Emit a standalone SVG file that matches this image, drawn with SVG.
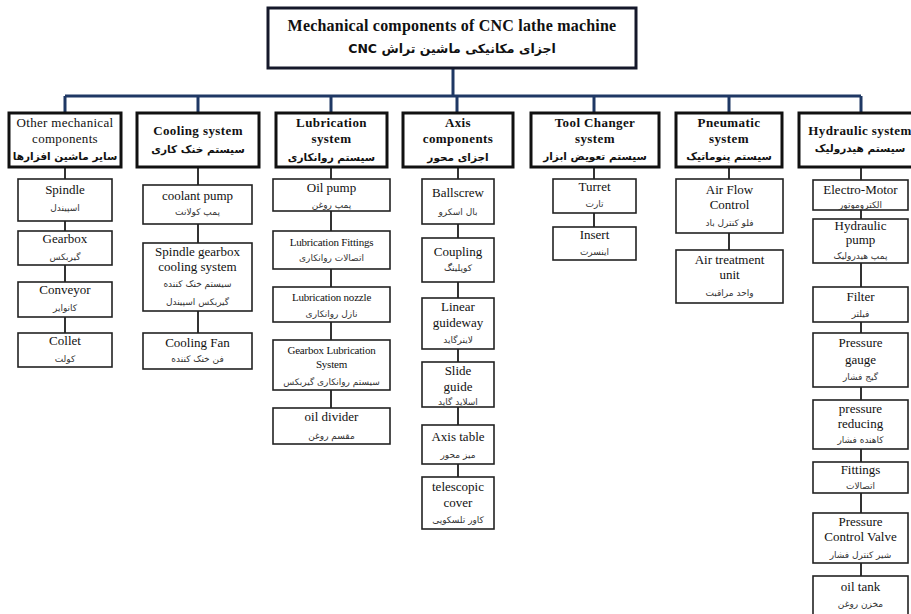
<svg xmlns="http://www.w3.org/2000/svg" width="911" height="614" viewBox="0 0 911 614">
<style>
.bg{fill:#ffffff}
.main{fill:#fff;stroke:#15182a;stroke-width:3}
.hdr{fill:#fff;stroke:#111;stroke-width:3}
.box{fill:#fff;stroke:#222;stroke-width:1.6}
.bus{fill:none;stroke:#1f3864;stroke-width:3}
.link{fill:none;stroke:#333;stroke-width:2}
text{text-anchor:middle}
.t{font-family:"Liberation Serif","Times New Roman",serif;font-size:16px;font-weight:bold;fill:#111;letter-spacing:0.2px}
.tf{font-family:"DejaVu Sans","Noto Sans",sans-serif;font-size:12.5px;font-weight:bold;fill:#111}
.hb{font-family:"Liberation Serif","Times New Roman",serif;font-size:13px;font-weight:bold;fill:#111;letter-spacing:0.4px}
.hr{font-family:"Liberation Serif","Times New Roman",serif;font-size:13px;fill:#111;letter-spacing:0.3px}
.hf{font-family:"DejaVu Sans","Noto Sans",sans-serif;font-size:10.5px;font-weight:bold;fill:#111}
.en{font-family:"Liberation Serif","Times New Roman",serif;font-size:13px;fill:#111}
.es{font-family:"Liberation Serif","Times New Roman",serif;font-size:11px;fill:#111;letter-spacing:-0.2px}
.fa{font-family:"DejaVu Sans","Noto Sans",sans-serif;font-size:9px;fill:#333}
</style>
<rect class="bg" x="0" y="0" width="911" height="614"/>

<g id="connectors">
<path class="bus" d="M453 68 V96 M65 96 H861 M65 96 V113 M198 96 V113 M331 96 V113 M457 96 V113 M594 96 V113 M729 96 V113 M861 96 V113"/>
<path class="link" d="M65 167 V333 M198 167 V333 M331 167 V408 M458 167 V477 M594 167 V227 M729 167 V250 M861 167 V576"/>
</g>

<g id="root">
<rect class="main" x="268" y="8" width="368" height="60"/>
<text class="t" x="452" y="31">Mechanical components of CNC lathe machine</text>
<text class="tf" x="452" y="53" direction="rtl">اجزای مکانیکی ماشین تراش CNC</text>
</g>

<!-- Column 1 -->
<g id="other">
<rect class="hdr" x="9" y="113" width="112" height="54"/>
<text class="hr" x="65" y="127">Other mechanical</text>
<text class="hr" x="65" y="143">components</text>
<text class="hf" x="65" y="160" direction="rtl">سایر ماشین افزارها</text>
</g>
<g id="spindle">
<rect class="box" x="18" y="179" width="94" height="42"/>
<text class="en" x="65" y="194">Spindle</text>
<text class="fa" x="65" y="211" direction="rtl">اسپیندل</text>
</g>
<g id="gearbox">
<rect class="box" x="18" y="231" width="94" height="34"/>
<text class="en" x="65" y="243">Gearbox</text>
<text class="fa" x="65" y="260" direction="rtl">گیربکس</text>
</g>
<g id="conveyor">
<rect class="box" x="18" y="282" width="94" height="35"/>
<text class="en" x="65" y="294">Conveyor</text>
<text class="fa" x="65" y="311" direction="rtl">کانوایر</text>
</g>
<g id="collet">
<rect class="box" x="18" y="333" width="94" height="34"/>
<text class="en" x="65" y="345">Collet</text>
<text class="fa" x="65" y="362" direction="rtl">کولت</text>
</g>

<!-- Column 2 -->
<g id="cooling">
<rect class="hdr" x="137" y="113" width="122" height="54"/>
<text class="hb" x="198" y="135">Cooling system</text>
<text class="hf" x="198" y="153" direction="rtl">سیستم خنک کاری</text>
</g>
<g id="coolant-pump">
<rect class="box" x="143" y="185" width="109" height="39"/>
<text class="en" x="197.5" y="200">coolant pump</text>
<text class="fa" x="197.5" y="215" direction="rtl">پمپ کولانت</text>
</g>
<g id="spindle-gearbox-cooling">
<rect class="box" x="143" y="243" width="109" height="68"/>
<text class="en" x="197.5" y="256">Spindle gearbox</text>
<text class="en" x="197.5" y="271">cooling system</text>
<text class="fa" x="197.5" y="287" direction="rtl">سیستم خنک کننده</text>
<text class="fa" x="197.5" y="305" direction="rtl">گیربکس اسپیندل</text>
</g>
<g id="cooling-fan">
<rect class="box" x="143" y="333" width="109" height="36"/>
<text class="en" x="197.5" y="347">Cooling Fan</text>
<text class="fa" x="197.5" y="362" direction="rtl">فن خنک کننده</text>
</g>

<!-- Column 3 -->
<g id="lubrication">
<rect class="hdr" x="276" y="113" width="111" height="54"/>
<text class="hb" x="331.5" y="127">Lubrication</text>
<text class="hb" x="331.5" y="143">system</text>
<text class="hf" x="331.5" y="161" direction="rtl">سیستم روانکاری</text>
</g>
<g id="oil-pump">
<rect class="box" x="273" y="179" width="117" height="32"/>
<text class="en" x="331.5" y="192">Oil pump</text>
<text class="fa" x="331.5" y="208" direction="rtl">پمپ روغن</text>
</g>
<g id="lubrication-fittings">
<rect class="box" x="273" y="231" width="117" height="38"/>
<text class="es" x="331.5" y="246">Lubrication Fittings</text>
<text class="fa" x="331.5" y="261" direction="rtl">اتصالات روانکاری</text>
</g>
<g id="lubrication-nozzle">
<rect class="box" x="273" y="287" width="117" height="35"/>
<text class="es" x="331.5" y="301">Lubrication nozzle</text>
<text class="fa" x="331.5" y="317" direction="rtl">نازل روانکاری</text>
</g>
<g id="gearbox-lubrication">
<rect class="box" x="273" y="340" width="117" height="50"/>
<text class="es" x="331.5" y="354">Gearbox Lubrication</text>
<text class="es" x="331.5" y="368">System</text>
<text class="fa" x="331.5" y="385" direction="rtl">سیستم روانکاری گیربکس</text>
</g>
<g id="oil-divider">
<rect class="box" x="273" y="408" width="117" height="36"/>
<text class="en" x="331.5" y="421">oil divider</text>
<text class="fa" x="331.5" y="439" direction="rtl">مقسم روغن</text>
</g>

<!-- Column 4 -->
<g id="axis">
<rect class="hdr" x="403" y="113" width="110" height="54"/>
<text class="hb" x="458" y="127">Axis</text>
<text class="hb" x="458" y="143">components</text>
<text class="hf" x="458" y="161" direction="rtl">اجزای محور</text>
</g>
<g id="ballscrew">
<rect class="box" x="422" y="179" width="72" height="45"/>
<text class="en" x="458" y="197">Ballscrew</text>
<text class="fa" x="458" y="215" direction="rtl">بال اسکرو</text>
</g>
<g id="coupling">
<rect class="box" x="422" y="238" width="72" height="44"/>
<text class="en" x="458" y="256">Coupling</text>
<text class="fa" x="458" y="271" direction="rtl">کوپلینگ</text>
</g>
<g id="linear-guideway">
<rect class="box" x="422" y="298" width="72" height="51"/>
<text class="en" x="458" y="311">Linear</text>
<text class="en" x="458" y="327">guideway</text>
<text class="fa" x="458" y="343" direction="rtl">لاینرگاید</text>
</g>
<g id="slide-guide">
<rect class="box" x="422" y="362" width="72" height="45"/>
<text class="en" x="458" y="375">Slide</text>
<text class="en" x="458" y="391">guide</text>
<text class="fa" x="458" y="405" direction="rtl">اسلاید گاید</text>
</g>
<g id="axis-table">
<rect class="box" x="422" y="425" width="72" height="39"/>
<text class="en" x="458" y="441">Axis table</text>
<text class="fa" x="458" y="458" direction="rtl">میز محور</text>
</g>
<g id="telescopic-cover">
<rect class="box" x="422" y="477" width="72" height="52"/>
<text class="en" x="458" y="491">telescopic</text>
<text class="en" x="458" y="507">cover</text>
<text class="fa" x="458" y="523" direction="rtl">کاور تلسکوپی</text>
</g>

<!-- Column 5 -->
<g id="tool-changer">
<rect class="hdr" x="531" y="113" width="128" height="54"/>
<text class="hb" x="595" y="127">Tool Changer</text>
<text class="hb" x="595" y="143">system</text>
<text class="hf" x="595" y="160" direction="rtl">سیستم تعویض ابزار</text>
</g>
<g id="turret">
<rect class="box" x="553" y="179" width="83" height="34"/>
<text class="en" x="594.5" y="191">Turret</text>
<text class="fa" x="594.5" y="207" direction="rtl">تارت</text>
</g>
<g id="insert">
<rect class="box" x="553" y="227" width="83" height="33"/>
<text class="en" x="594.5" y="239">Insert</text>
<text class="fa" x="594.5" y="255" direction="rtl">اینسرت</text>
</g>

<!-- Column 6 -->
<g id="pneumatic">
<rect class="hdr" x="676" y="113" width="106" height="54"/>
<text class="hb" x="729" y="127">Pneumatic</text>
<text class="hb" x="729" y="143">system</text>
<text class="hf" x="729" y="160" direction="rtl">سیستم پنوماتیک</text>
</g>
<g id="air-flow-control">
<rect class="box" x="676" y="179" width="107" height="54"/>
<text class="en" x="729.5" y="194">Air Flow</text>
<text class="en" x="729.5" y="209">Control</text>
<text class="fa" x="729.5" y="226" direction="rtl">فلو کنترل باد</text>
</g>
<g id="air-treatment-unit">
<rect class="box" x="676" y="250" width="107" height="53"/>
<text class="en" x="729.5" y="264">Air treatment</text>
<text class="en" x="729.5" y="279">unit</text>
<text class="fa" x="729.5" y="296" direction="rtl">واحد مراقبت</text>
</g>

<!-- Column 7 -->
<g id="hydraulic">
<rect class="hdr" x="799" y="113" width="124" height="54"/>
<text class="hb" x="860" y="135">Hydraulic system</text>
<text class="hf" x="860" y="152" direction="rtl">سیستم هیدرولیک</text>
</g>
<g id="electro-motor">
<rect class="box" x="813" y="180" width="95" height="30"/>
<text class="en" x="860.5" y="194">Electro-Motor</text>
<text class="fa" x="860.5" y="208" direction="rtl">الکتروموتور</text>
</g>
<g id="hydraulic-pump">
<rect class="box" x="813" y="219" width="95" height="44"/>
<text class="en" x="860.5" y="230">Hydraulic</text>
<text class="en" x="860.5" y="244">pump</text>
<text class="fa" x="860.5" y="259" direction="rtl">پمپ هیدرولیک</text>
</g>
<g id="filter">
<rect class="box" x="813" y="287" width="95" height="35"/>
<text class="en" x="860.5" y="301">Filter</text>
<text class="fa" x="860.5" y="317" direction="rtl">فیلتر</text>
</g>
<g id="pressure-gauge">
<rect class="box" x="813" y="333" width="95" height="54"/>
<text class="en" x="860.5" y="347">Pressure</text>
<text class="en" x="860.5" y="364">gauge</text>
<text class="fa" x="860.5" y="380" direction="rtl">گیج فشار</text>
</g>
<g id="pressure-reducing">
<rect class="box" x="813" y="400" width="95" height="49"/>
<text class="en" x="860.5" y="413">pressure</text>
<text class="en" x="860.5" y="428">reducing</text>
<text class="fa" x="860.5" y="443" direction="rtl">کاهنده فشار</text>
</g>
<g id="fittings">
<rect class="box" x="813" y="462" width="95" height="31"/>
<text class="en" x="860.5" y="474">Fittings</text>
<text class="fa" x="860.5" y="489" direction="rtl">اتصالات</text>
</g>
<g id="pressure-control-valve">
<rect class="box" x="813" y="513" width="95" height="50"/>
<text class="en" x="860.5" y="526">Pressure</text>
<text class="en" x="860.5" y="541">Control Valve</text>
<text class="fa" x="860.5" y="558" direction="rtl">شیر کنترل فشار</text>
</g>
<g id="oil-tank">
<rect class="box" x="813" y="576" width="95" height="44"/>
<text class="en" x="860.5" y="591">oil tank</text>
<text class="fa" x="860.5" y="607" direction="rtl">مخزن روغن</text>
</g>
</svg>
